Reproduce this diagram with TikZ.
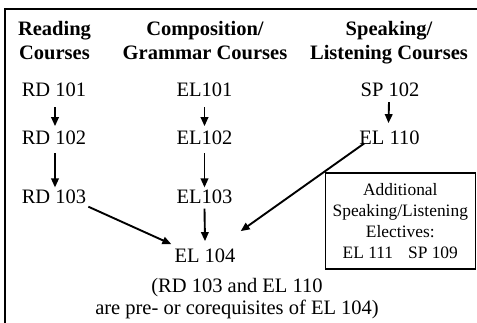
\documentclass[tikz,border=0pt]{standalone}
\usepackage{fontspec}
\setmainfont{Liberation Serif}
\usetikzlibrary{arrows.meta}
\begin{document}
\begin{tikzpicture}[x=1pt,y=-1pt,
  txt/.style={inner sep=0pt,anchor=base,font=\fontsize{20.5}{23.6}\selectfont},
  hdr/.style={inner sep=0pt,anchor=base,align=center,font=\fontsize{20.5}{23.6}\selectfont\bfseries},
  arr/.style={line width=1.9pt,-{Triangle[length=9pt,width=7.5pt]}},
  elect/.style={draw,line width=1.1pt,inner sep=0pt,minimum width=150pt,minimum height=96pt,align=center,font=\fontsize{17.4}{21}\selectfont}]
\useasboundingbox (0,0) rectangle (477,323);
\draw[line width=2.2pt] (5,323) -- (5,9) -- (477,9);
% headers
\node[hdr] (h1) at (54.5,59.3) {Reading\\Courses};
\node[hdr] (h2) at (205,59.3) {Composition/\\Grammar Courses};
\node[hdr] (h3) at (389,59.3) {Speaking/\\Listening Courses};
% courses
\node[txt] (rd101) at (54,96.7) {RD 101};
\node[txt] (rd102) at (54,145) {RD 102};
\node[txt] (rd103) at (54,203.3) {RD 103};
\node[txt] (el101) at (204.5,96.7) {EL101};
\node[txt] (el102) at (204.5,145) {EL102};
\node[txt] (el103) at (204.5,203.3) {EL103};
\node[txt] (el104) at (205,263) {EL 104};
\node[txt] (sp102) at (390,96.7) {SP 102};
\node[txt] (el110) at (389.5,145) {EL 110};
% box
\node[elect] (box) at (400.3,221) {Additional\\Speaking/Listening\\Electives:\\EL 111\hspace{15pt}SP 109};
% note
\node[txt,align=center,font=\fontsize{20.5}{22}\selectfont] (note) at (237,315) {(RD 103 and EL 110\\are pre- or corequisites of EL 104)};
% arrows
\draw[arr] ([shift={(1,10)}]rd101.south) -- ([shift={(1,-5)}]rd102.north);
\draw[arr] ([shift={(1,8)}]rd102.south) -- ([shift={(1,-2)}]rd103.north);
\draw[arr] ([shift={(0,10)}]el101.south) -- ([shift={(0,-5)}]el102.north);
\draw[arr] ([shift={(0,8)}]el102.south) -- ([shift={(0,-2)}]el103.north);
\draw[arr] ([shift={(0,5)}]el103.south) -- ([shift={(0,-8)}]el104.north);
\draw[arr] ([shift={(-1,5)}]sp102.south) -- ([shift={(-1,-8)}]el110.north);
\draw[arr] ([shift={(2,3)}]rd103.south east) -- ([shift={(-3,-5)}]el104.north west);
\draw[arr] ([shift={(5,-2)}]el110.south west) -- ([shift={(5,-18)}]el104.north east);
\end{tikzpicture}
\end{document}
